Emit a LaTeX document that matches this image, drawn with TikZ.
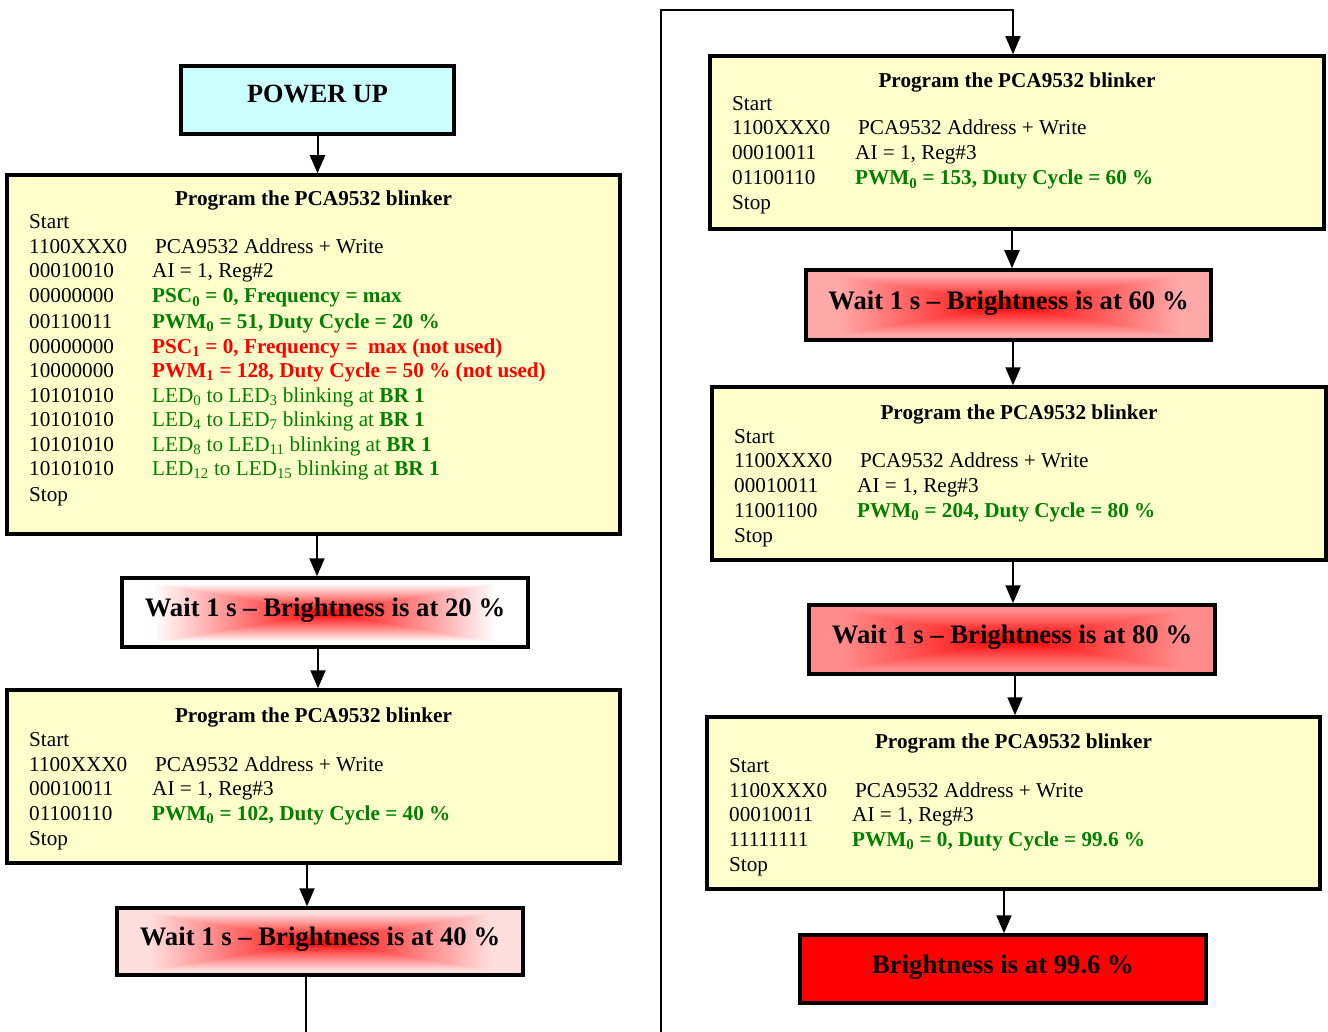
\documentclass[tikz,border=0pt]{standalone}
\usepackage{fontspec}
\setmainfont{Liberation Serif}
\usetikzlibrary{arrows.meta,calc}
\definecolor{ylw}{RGB}{255,255,204}
\definecolor{cyn}{RGB}{204,255,255}
\definecolor{grn}{RGB}{0,128,0}
\definecolor{rd}{RGB}{255,0,0}
% rectangular "from centre" gradients: red centre -> outer colour
\pgfdeclarefunctionalshading{waitA}{\pgfpoint{-50bp}{-50bp}}{\pgfpoint{50bp}{50bp}}{}{
  abs 21 div exch abs 21 div 2 copy lt {exch} if pop
  dup 1 gt {pop 1} if
  dup 1 mul exch 1 mul 1 3 1 roll
}
\pgfdeclarefunctionalshading{waitB}{\pgfpoint{-50bp}{-50bp}}{\pgfpoint{50bp}{50bp}}{}{
  abs 21 div exch abs 21 div 2 copy lt {exch} if pop
  dup 1 gt {pop 1} if
  dup 0.87 mul exch 0.87 mul 1 3 1 roll
}
\pgfdeclarefunctionalshading{waitC}{\pgfpoint{-50bp}{-50bp}}{\pgfpoint{50bp}{50bp}}{}{
  abs 21 div exch abs 21 div 2 copy lt {exch} if pop
  dup 1 gt {pop 1} if
  dup 0.66 mul exch 0.66 mul 1 3 1 roll
}
\pgfdeclarefunctionalshading{waitD}{\pgfpoint{-50bp}{-50bp}}{\pgfpoint{50bp}{50bp}}{}{
  abs 21 div exch abs 21 div 2 copy lt {exch} if pop
  dup 1 gt {pop 1} if
  dup 0.55 mul exch 0.55 mul 1 3 1 roll
}
\newcommand{\rowtxt}[4]{\node[tx] (#1) at (#2,#3) {#4};}
\newcommand{\gb}[1]{{\bfseries\color{grn}#1}}
\newcommand{\rb}[1]{{\bfseries\color{rd}#1}}
\newcommand{\gl}[1]{{\color{grn}#1}}
\newcommand{\sbs}[1]{\textsubscript{#1}}
\tikzset{
  box/.style={draw, line width=3.5pt, inner sep=0pt},
  progbox/.style={box, fill=ylw},
  bigfont/.style={font=\fontsize{26.7}{30}\selectfont\bfseries},
  waitbox/.style={box, shade, bigfont, text depth=10pt},
  arr/.style={line width=2pt, -{Triangle[width=15pt,length=18pt]}},
  loopline/.style={line width=1.5pt},
  tx/.style={anchor=base west, inner sep=0pt, font=\fontsize{21.2}{25}\selectfont},
  ttl/.style={anchor=base, inner sep=0pt, font=\fontsize{21.2}{25}\selectfont\bfseries},
}
\begin{document}
\begin{tikzpicture}[x=1pt,y=-1pt]
\useasboundingbox (0,0) rectangle (1328,1032);
% ---------------- boxes
\node[box, fill=cyn, minimum width=273pt, minimum height=68pt,
      font=\fontsize{26.3}{30}\selectfont\bfseries, text depth=12pt] (pu) at (317.5,100) {POWER UP};
\node[progbox, minimum width=613pt, minimum height=359pt] (p1) at (313.5,354.5) {};
\node[waitbox, shading=waitA, minimum width=406pt, minimum height=69pt] (w20) at (325,612.5) {Wait 1 s -- Brightness is at 20 \%};
\node[progbox, minimum width=613pt, minimum height=173pt] (p2) at (313.5,776.5) {};
\node[waitbox, shading=waitB, minimum width=406pt, minimum height=67pt] (w40) at (320,941.5) {Wait 1 s -- Brightness is at 40 \%};
\node[progbox, minimum width=614pt, minimum height=173pt] (p3) at (1017,142.5) {};
\node[waitbox, shading=waitC, minimum width=405pt, minimum height=70pt] (w60) at (1008.5,305) {Wait 1 s -- Brightness is at 60 \%};
\node[progbox, minimum width=614pt, minimum height=173pt] (p4) at (1019,473.5) {};
\node[waitbox, shading=waitD, minimum width=406pt, minimum height=69pt] (w80) at (1012,639.5) {Wait 1 s -- Brightness is at 80 \%};
\node[progbox, minimum width=613pt, minimum height=172pt] (p5) at (1013.5,803) {};
\node[box, fill=rd, minimum width=406pt, minimum height=68pt,
      bigfont, text depth=10pt] (fin) at (1003,969) {Brightness is at 99.6 \%};
% ---------------- box 1 text
\node[ttl] (p1t) at (313.5,206) {Program the PCA9532 blinker};
\rowtxt{p1a}{29}{229}{Start}
\rowtxt{p1b}{29}{254}{1100XXX0}
\rowtxt{p1bb}{155}{254}{PCA9532 Address + Write}
\rowtxt{p1c}{29}{278}{00010010}
\rowtxt{p1cc}{152}{278}{AI = 1, Reg\#2}
\rowtxt{p1d}{29}{303}{00000000}
\rowtxt{p1dd}{152}{303}{\gb{PSC\sbs{0} = 0, Frequency = max}}
\rowtxt{p1e}{29}{328}{00110011}
\rowtxt{p1ee}{152}{328}{\gb{PWM\sbs{0} = 51, Duty Cycle = 20 \%}}
\rowtxt{p1f}{29}{353}{00000000}
\rowtxt{p1ff}{152}{353}{\rb{PSC\sbs{1} = 0, Frequency = \ max (not used)}}
\rowtxt{p1g}{29}{377}{10000000}
\rowtxt{p1gg}{152}{377}{\rb{PWM\sbs{1} = 128, Duty Cycle = 50 \% (not used)}}
\rowtxt{p1h}{29}{402}{10101010}
\rowtxt{p1hh}{152}{402}{\gl{LED\sbs{0} to LED\sbs{3} blinking at \textbf{BR 1}}}
\rowtxt{p1i}{29}{426}{10101010}
\rowtxt{p1ii}{152}{426}{\gl{LED\sbs{4} to LED\sbs{7} blinking at \textbf{BR 1}}}
\rowtxt{p1j}{29}{451}{10101010}
\rowtxt{p1jj}{152}{451}{\gl{LED\sbs{8} to LED\sbs{11} blinking at \textbf{BR 1}}}
\rowtxt{p1k}{29}{475}{10101010}
\rowtxt{p1kk}{152}{475}{\gl{LED\sbs{12} to LED\sbs{15} blinking at \textbf{BR 1}}}
\rowtxt{p1l}{29}{501}{Stop}
% ---------------- box 2 text
\node[ttl] (p2t) at (313.5,722) {Program the PCA9532 blinker};
\rowtxt{p2a}{29}{746}{Start}
\rowtxt{p2b}{29}{771}{1100XXX0}
\rowtxt{p2bb}{155}{771}{PCA9532 Address + Write}
\rowtxt{p2c}{29}{795}{00010011}
\rowtxt{p2cc}{152}{795}{AI = 1, Reg\#3}
\rowtxt{p2d}{29}{820}{01100110}
\rowtxt{p2dd}{152}{820}{\gb{PWM\sbs{0} = 102, Duty Cycle = 40 \%}}
\rowtxt{p2e}{29}{845}{Stop}
% ---------------- box 3 text
\node[ttl] (p3t) at (1017,88) {Program the PCA9532 blinker};
\rowtxt{p3a}{732}{111}{Start}
\rowtxt{p3b}{732}{135}{1100XXX0}
\rowtxt{p3bb}{858}{135}{PCA9532 Address + Write}
\rowtxt{p3c}{732}{160}{00010011}
\rowtxt{p3cc}{855}{160}{AI = 1, Reg\#3}
\rowtxt{p3d}{732}{185}{01100110}
\rowtxt{p3dd}{855}{185}{\gb{PWM\sbs{0} = 153, Duty Cycle = 60 \%}}
\rowtxt{p3e}{732}{210}{Stop}
% ---------------- box 4 text
\node[ttl] (p4t) at (1019,419) {Program the PCA9532 blinker};
\rowtxt{p4a}{734}{443}{Start}
\rowtxt{p4b}{734}{467}{1100XXX0}
\rowtxt{p4bb}{860}{467}{PCA9532 Address + Write}
\rowtxt{p4c}{734}{492}{00010011}
\rowtxt{p4cc}{857}{492}{AI = 1, Reg\#3}
\rowtxt{p4d}{734}{517}{11001100}
\rowtxt{p4dd}{857}{517}{\gb{PWM\sbs{0} = 204, Duty Cycle = 80 \%}}
\rowtxt{p4e}{734}{542}{Stop}
% ---------------- box 5 text
\node[ttl] (p5t) at (1013.5,748) {Program the PCA9532 blinker};
\rowtxt{p5a}{729}{772}{Start}
\rowtxt{p5b}{729}{797}{1100XXX0}
\rowtxt{p5bb}{855}{797}{PCA9532 Address + Write}
\rowtxt{p5c}{729}{821}{00010011}
\rowtxt{p5cc}{852}{821}{AI = 1, Reg\#3}
\rowtxt{p5d}{729}{846}{11111111}
\rowtxt{p5dd}{852}{846}{\gb{PWM\sbs{0} = 0, Duty Cycle = 99.6 \%}}
\rowtxt{p5e}{729}{871}{Stop}
% ---------------- connectors
\draw[arr] (pu.south) -- (pu.south |- p1.north);
\draw[arr] ([xshift=3.5pt]p1.south) -- ([xshift=3.5pt]p1.south |- w20.north);
\draw[arr] ([xshift=-7pt]w20.south) -- ([xshift=-7pt]w20.south |- p2.north);
\draw[arr] ([xshift=-6.5pt]p2.south) -- ([xshift=-6.5pt]p2.south |- w40.north);
\coordinate (lb) at (306,1032);
\draw[loopline] (w40.south -| lb) -- (lb);
\coordinate (rb) at (661,1032);
\coordinate (rt) at (661,10);
\coordinate (rr) at (1013,10);
\draw[arr, line width=1.5pt] (rb) -- (rt) -- (rr) -- (rr |- p3.north);
\draw[arr] ([xshift=-5pt]p3.south) -- ([xshift=-5pt]p3.south |- w60.north);
\draw[arr] ([xshift=4.5pt]w60.south) -- ([xshift=4.5pt]w60.south |- p4.north);
\draw[arr] ([xshift=-6pt]p4.south) -- ([xshift=-6pt]p4.south |- w80.north);
\draw[arr] ([xshift=3pt]w80.south) -- ([xshift=3pt]w80.south |- p5.north);
\draw[arr] ([xshift=-9.5pt]p5.south) -- ([xshift=-9.5pt]p5.south |- fin.north);
\end{tikzpicture}
\end{document}
